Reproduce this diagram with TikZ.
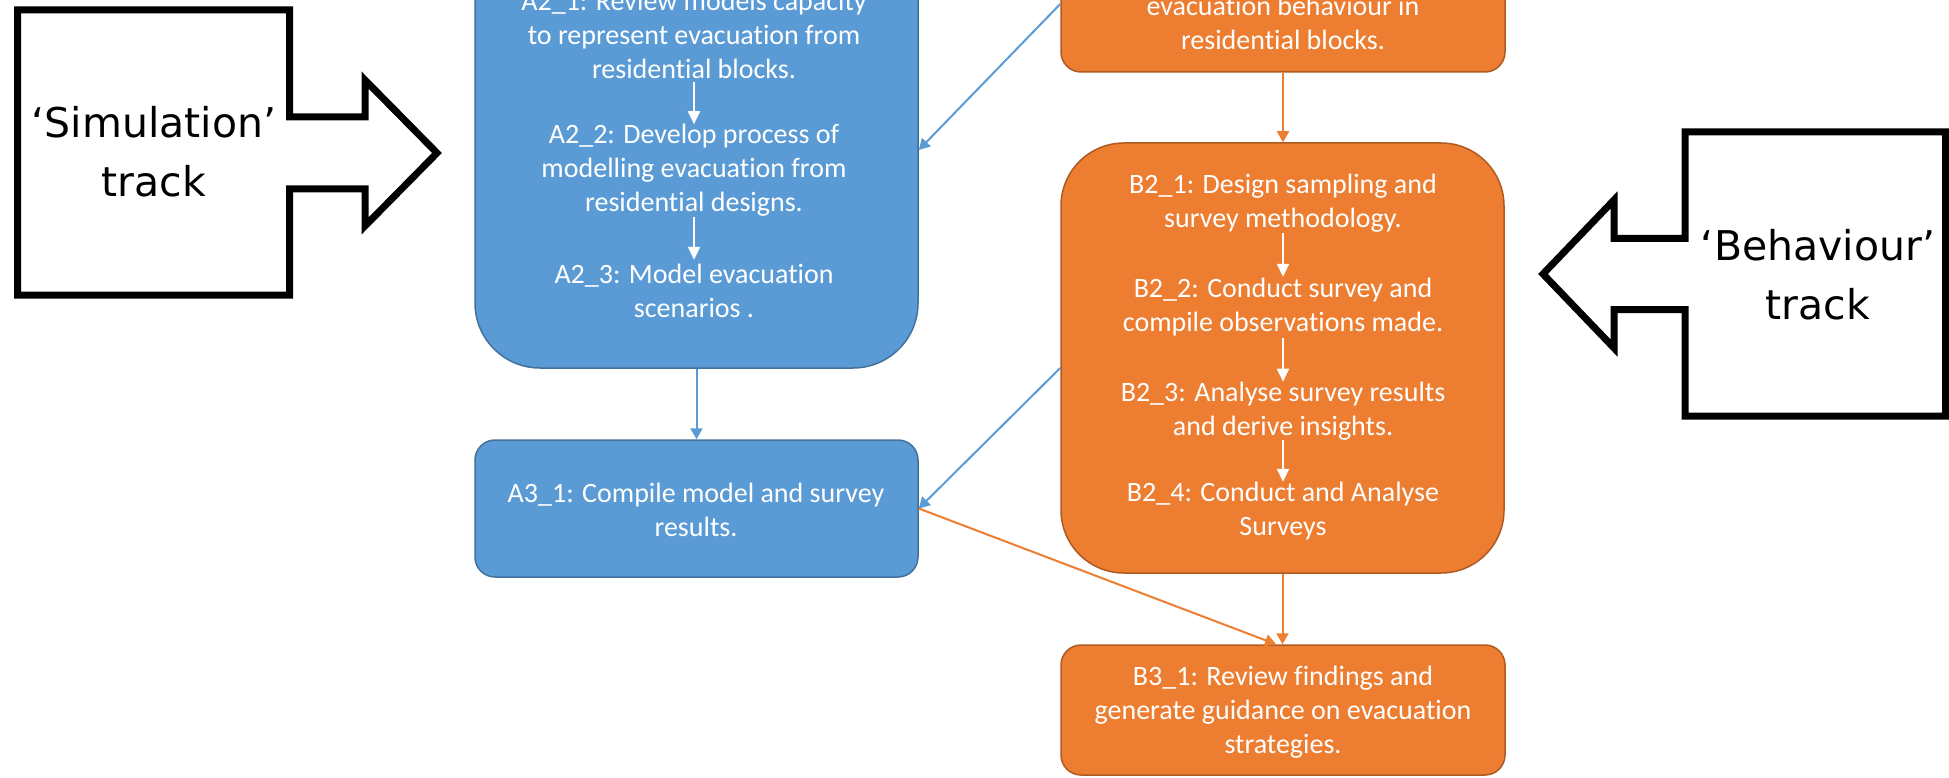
\documentclass[tikz,border=0pt]{standalone}
\usepackage{fontspec}
\newfontfamily\boxfont[Ligatures=NoCommon]{Carlito}
\newfontfamily\callfont{DejaVu Sans}
\usetikzlibrary{arrows.meta}
\definecolor{bfill}{HTML}{5B9BD5}
\definecolor{bdraw}{HTML}{41719C}
\definecolor{ofill}{HTML}{ED7D31}
\definecolor{odraw}{HTML}{AE5A21}
\begin{document}
\begin{tikzpicture}[x=1pt,y=-1pt,
  bluebox/.style={draw=bdraw, fill=bfill, line width=1.5pt, inner sep=0pt},
  orangebox/.style={draw=odraw, fill=ofill, line width=1.5pt, inner sep=0pt},
  boxtext/.style={text=white, font=\boxfont\fontsize{28}{34}\selectfont, align=center, inner sep=0pt},
  calltext/.style={font=\callfont\fontsize{41}{59}\selectfont, align=center, inner sep=0pt},
  callout/.style={draw=black, line width=7pt, miter limit=10, line join=miter},
  tip/.style={-{Triangle[width=12pt,length=11pt]}},
  blueline/.style={tip, draw=bfill, line width=2pt},
  orangeline/.style={tip, draw=ofill, line width=2pt},
  whiteline/.style={-{Triangle[width=12pt,length=13pt]}, draw=white, line width=2pt}
]
\useasboundingbox (0,0) rectangle (1949,778);
\clip (0,0) rectangle (1949,778);

% boxes
\node[bluebox, rounded corners=65pt, minimum width=443pt, minimum height=436pt] (A2) at (696.5,150) {};
\node[bluebox, rounded corners=20pt, minimum width=443pt, minimum height=137pt] (A3) at (696.5,508.5) {};
\node[orangebox, rounded corners=20pt, minimum width=444pt, minimum height=136pt] (B1) at (1283,4) {};
\node[orangebox, rounded corners=63pt, minimum width=443pt, minimum height=430pt] (B2) at (1282.5,358) {};
\node[orangebox, rounded corners=20pt, minimum width=444pt, minimum height=130pt] (B3) at (1283,710) {};

% texts
\node[boxtext, minimum height=95pt] (a21) at (694,34.5) {A2\_1: Review models capacity\\to represent evacuation from\\residential blocks.};
\node[boxtext, minimum height=89pt] (a22) at (694,170.5) {A2\_2: Develop process of\\modelling evacuation from\\residential designs.};
\node[boxtext, minimum height=61pt] (a23) at (694,290.5) {A2\_3: Model evacuation\\scenarios .};
\node[boxtext] (a31) at (696,509.5) {A3\_1: Compile model and survey\\results.};
\node[boxtext] (b11) at (1283,22.5) {evacuation behaviour in\\residential blocks.};
\node[boxtext, minimum height=59pt] (b21) at (1283,203.5) {B2\_1: Design sampling and\\survey methodology.};
\node[boxtext, minimum height=61pt] (b22) at (1283,307.5) {B2\_2: Conduct survey and\\compile observations made.};
\node[boxtext, minimum height=58pt] (b23) at (1283,411) {B2\_3: Analyse survey results\\and derive insights.};
\node[boxtext, minimum height=59pt] (b24) at (1283,511.5) {B2\_4: Conduct and Analyse\\Surveys};
\node[boxtext] (b31) at (1283,712.5) {B3\_1: Review findings and\\generate guidance on evacuation\\strategies.};

% inner arrows
\draw[whiteline] (a21.south) -- (a22.north);
\draw[whiteline] (a22.south) -- (a23.north);
\draw[whiteline] (b21.south) -- (b22.north);
\draw[whiteline] (b22.south) -- (b23.north);
\draw[whiteline] (b23.south) -- (b24.north);

% connectors
\draw[orangeline] (B1.south) -- (B1.south |- B2.north);
\draw[orangeline] (B2.south) -- (B2.south |- B3.north);
\draw[blueline] (A2.south) -- (A2.south |- A3.north);
\draw[blueline] (B1.west) -- (A2.east);
\draw[blueline] ([yshift=-10pt]B2.west) -- (A3.east);
\draw[orangeline] (A3.east) -- ([xshift=-7pt]B3.north);

% callouts
\draw[callout] (17.5,10) -- (289.5,10) -- (289.5,117) -- (365,117) -- (365,80) -- (437,153)
  -- (365,226) -- (365,189) -- (289.5,189) -- (289.5,295) -- (17.5,295) -- cycle;
\node[calltext] (sim) at (154,152) {‘Simulation’\\track};
\draw[callout] (1945.5,132) -- (1685,132) -- (1685,238.5) -- (1614,238.5) -- (1614,200) -- (1543,274)
  -- (1614,348) -- (1614,309.5) -- (1685,309.5) -- (1685,416) -- (1945.5,416) -- cycle;
\node[calltext] (beh) at (1818,274.5) {‘Behaviour’\\track};
\end{tikzpicture}
\end{document}
